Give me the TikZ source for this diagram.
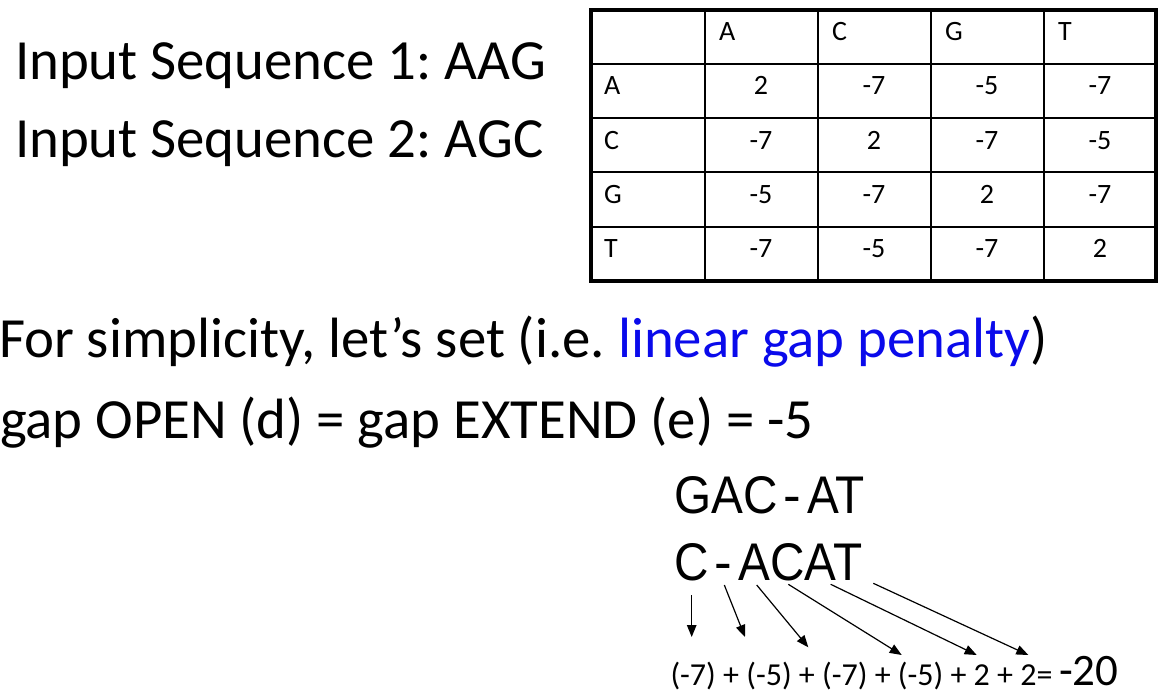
\documentclass[tikz,border=0pt]{standalone}
\usepackage{fontspec}
\setmainfont{Carlito}
\newfontfamily\alnfont[FakeStretch=0.9]{Liberation Sans}
\newfontfamily\alndash{Liberation Sans}
\usetikzlibrary{arrows.meta}
\definecolor{gapblue}{RGB}{10,10,235}
\frenchspacing
\tikzset{
  txt/.style={anchor=base west, inner sep=0pt, outer sep=0pt},
  big/.style={txt, font=\fontsize{56.8}{60}\selectfont},
  aln/.style={txt, font=\alnfont\fontsize{53}{58}\selectfont},
  cell/.style={anchor=base, inner sep=0pt, font=\fontsize{28}{30}\selectfont},
  lbl/.style={anchor=base west, inner sep=0pt, font=\fontsize{28}{30}\selectfont},
  thinrule/.style={line width=1.4pt, black},
  thickrule/.style={line width=4pt, black},
  scorearrow/.style={line width=1.2pt, -{Triangle[length=12pt,width=9.5pt]}},
}
\newcommand{\gapdash}{\kern6pt{\alndash -}\kern6pt}
\begin{document}
\begin{tikzpicture}[x=1pt,y=-1pt]
\useasboundingbox (0,0) rectangle (1164,692);
% left texts
\node[big] (seq1) at (15,80) {Input Sequence 1: AAG};
\node[big] (seq2) at (15,158) {Input Sequence 2: AGC};
\node[big] (simp) at (-1,357) {For simplicity, let’s set (i.e. \textcolor{gapblue}{linear gap penalty})};
\node[big] (gap) at (0,438) {gap OPEN (d) = gap EXTEND (e) = -5};
% table grid
\foreach \x in {705,818,931,1044} \draw[thinrule] (\x,10) -- (\x,281);
\foreach \y in {64,118,172,227} \draw[thinrule] (591,\y) -- (1156,\y);
\draw[thickrule] (591,10) rectangle (1156,281);
% header
\node[lbl] (hA) at (719,41) {A};
\node[lbl] (hC) at (832,41) {C};
\node[lbl] (hG) at (945,41) {G};
\node[lbl] (hT) at (1058,41) {T};
\node[lbl] (rA) at (604,95) {A};
\node[lbl] (rC) at (604,149.5) {C};
\node[lbl] (rG) at (604,203.5) {G};
\node[lbl] (rT) at (604,258) {T};
% values
\foreach \v [count=\i] in {2,-7,-5,-7} \node[cell] (vA\i) at ({648+113*\i},95) {\v};
\foreach \v [count=\i] in {-7,2,-7,-5} \node[cell] (vC\i) at ({648+113*\i},149.5) {\v};
\foreach \v [count=\i] in {-5,-7,2,-7} \node[cell] (vG\i) at ({648+113*\i},203.5) {\v};
\foreach \v [count=\i] in {-7,-5,-7,2} \node[cell] (vT\i) at ({648+113*\i},258) {\v};
% alignment
\node[aln] (al1) at (674.5,513) {GAC\gapdash AT};
\node[aln] (al2) at (674.5,580) {C\gapdash ACAT};
% sum line
\node[txt, font=\fontsize{32}{36}\selectfont] (sum) at (670.5,685) {(-7) + (-5) + (-7) + (-5) + 2 + 2=};
\node[txt, font=\fontsize{45}{50}\selectfont] (res) at (1059,685) {-20};
% arrow coordinates
\coordinate (s1) at (691.7,595);   \coordinate (e1) at (691.7,637);
\coordinate (s2) at (724.3,585);   \coordinate (e2) at (745,637);
\coordinate (s3) at (756.7,585);   \coordinate (e3) at (808.3,647.3);
\coordinate (s4) at (788.3,584.3); \coordinate (e4) at (901.7,655);
\coordinate (s5) at (830.7,584.3); \coordinate (e5) at (976.7,655);
\coordinate (s6) at (873.3,583.3); \coordinate (e6) at (1028.3,655);
\foreach \k in {1,...,6} \draw[scorearrow] (s\k) -- (e\k);
\end{tikzpicture}
\end{document}
